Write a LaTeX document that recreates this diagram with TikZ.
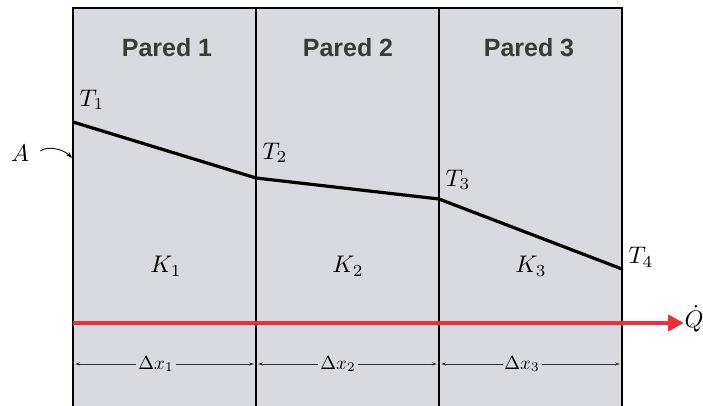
\documentclass[tikz,border=0pt]{standalone}
\usepackage{fontspec}
\newfontfamily\hfont{Liberation Sans}
\usetikzlibrary{arrows.meta}
\definecolor{wallgray}{HTML}{D9DADF}
\definecolor{heatred}{HTML}{E8303F}
\definecolor{labelgray}{HTML}{3A3A3A}
\tikzset{
  wall/.style={draw=black, line width=2.2pt},
  profile/.style={draw=black, line width=3.2pt},
  parlabel/.style={font=\hfont\bfseries\fontsize{25}{28}\selectfont, text=labelgray},
  mlabel/.style={font=\fontsize{10}{12}\selectfont, scale=2.4},
  dlabel/.style={font=\fontsize{10}{12}\selectfont, scale=1.9, fill=wallgray, inner sep=1pt},
  dimline/.style={draw=black!80, line width=0.8pt, {Stealth[length=5pt,width=3pt]}-{Stealth[length=5pt,width=3pt]}},
}
\begin{document}
\begin{tikzpicture}[x=1pt,y=-1pt]
\useasboundingbox (0,0) rectangle (703,406);
\fill[wallgray] (73,8) rectangle (622,406);
\draw[wall] (73,406) -- (73,8) -- (622,8) -- (622,406);
\draw[wall] (256,8) -- (256,406);
\draw[wall] (439,8) -- (439,406);
% labels
\node[parlabel] (p1) at (167,48) {Pared 1};
\node[parlabel] (p2) at (348,48) {Pared 2};
\node[parlabel] (p3) at (529,48) {Pared 3};
% temperature profile
\coordinate (c1) at (73,122);
\coordinate (c2) at (256,178);
\coordinate (c3) at (439,199);
\coordinate (c4) at (622,269);
\draw[profile, line join=round] (c1) -- (c2) -- (c3) -- (c4);
\node[mlabel] (t1) at (92,100) {$T_1$};
\node[mlabel] (t2) at (275,153) {$T_2$};
\node[mlabel] (t3) at (458,180) {$T_3$};
\node[mlabel] (t4) at (641,257) {$T_4$};
\node[mlabel] (k1) at (166,266) {$K_1$};
\node[mlabel] (k2) at (348,266) {$K_2$};
\node[mlabel] (k3) at (531,266) {$K_3$};
% A
\node[mlabel] (a) at (20,153) {$A$};
\coordinate (aend) at (72,158);
\draw[line width=0.9pt, -{Stealth[length=6pt,width=4pt]}] (a.east) ++(3,-2) .. controls (46,146) and (62,148) .. (aend);
% heat flow
\node[mlabel] (q) at (694,319) {$\dot{Q}$};
\coordinate (qs) at (73,323);
\coordinate (qe) at (684,323);
\draw[heatred, line width=4.5pt, -{Triangle[length=16pt,width=16pt]}] (qs) -- (qe);
% dimensions
\coordinate (w0) at (75,364);
\coordinate (w1l) at (254,364);
\coordinate (w1r) at (258,364);
\coordinate (w2l) at (437,364);
\coordinate (w2r) at (441,364);
\coordinate (w3) at (620,364);
\draw[dimline] (w0) -- (w1l);
\draw[dimline] (w1r) -- (w2l);
\draw[dimline] (w2r) -- (w3);
\node[dlabel] (d1) at (156,364) {$\Delta x_1$};
\node[dlabel] (d2) at (338,364) {$\Delta x_2$};
\node[dlabel] (d3) at (522,364) {$\Delta x_3$};
\end{tikzpicture}
\end{document}
